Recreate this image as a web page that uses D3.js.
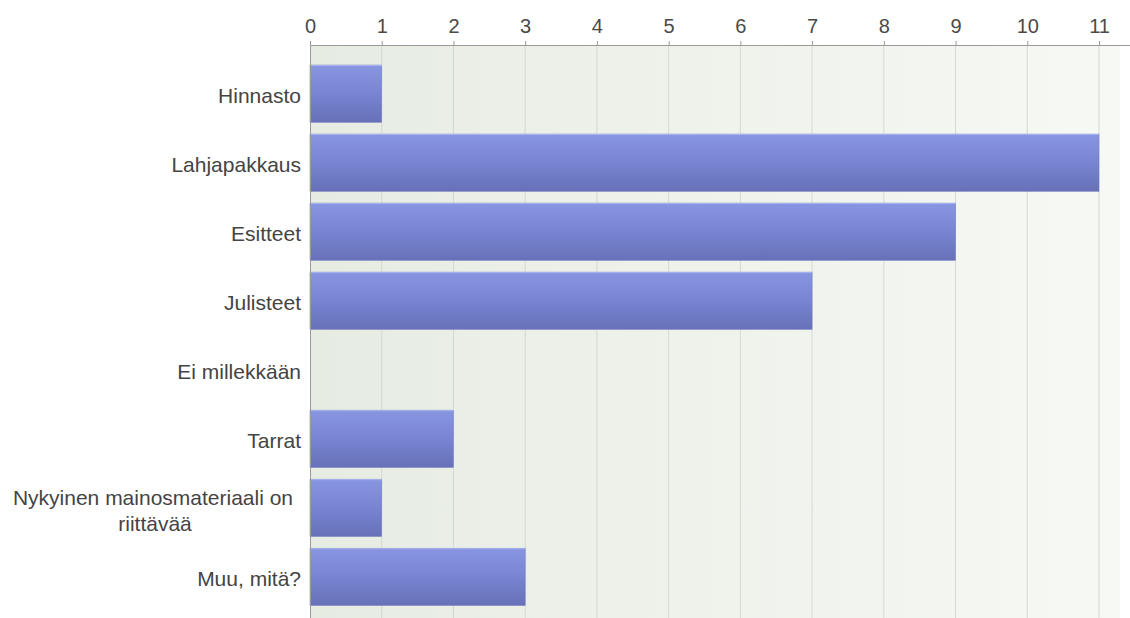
<!DOCTYPE html>
<html><head><meta charset="utf-8">
<script src="https://cdn.jsdelivr.net/npm/d3@7"></script>
<style>body{margin:0;background:#fff}svg{display:block}</style>
</head><body>
<svg id="c" width="1130" height="618"></svg>
<script>
const categories = ["Hinnasto","Lahjapakkaus","Esitteet","Julisteet","Ei millekkään","Tarrat","Nykyinen mainosmateriaali on riittävää","Muu, mitä?"];
const values = [1,11,9,7,0,2,1,3];
const tickValues = [0,1,2,3,4,5,6,7,8,9,10,11];

(function(){
const svg = d3.select("#c");
const W = 1130, H = 618;
const mLeft = 310, mTop = 45;
const FONT = "Liberation Sans, Arial, sans-serif";
const x = d3.scaleLinear().domain([0,11]).range([mLeft, 1099]);
const y = d3.scaleBand().domain(categories).range([59.5, 611]).paddingInner(0.17).paddingOuter(0.08);

const defs = svg.append("defs");
const bg = defs.append("linearGradient").attr("id","bg").attr("x1","0").attr("x2","1").attr("y1","0").attr("y2","0");
bg.append("stop").attr("offset","0").attr("stop-color","#e7ece3");
bg.append("stop").attr("offset","1").attr("stop-color","#f6f9f4");
const bar = defs.append("linearGradient").attr("id","bar").attr("x1","0").attr("x2","0").attr("y1","0").attr("y2","1");
bar.append("stop").attr("offset","0").attr("stop-color","#8896e2");
bar.append("stop").attr("offset","0.5").attr("stop-color","#7984d2");
bar.append("stop").attr("offset","1").attr("stop-color","#6671b9");

svg.append("rect").attr("x",mLeft).attr("y",mTop).attr("width",W-mLeft-10).attr("height",H-mTop).attr("fill","url(#bg)");

svg.append("g").selectAll("line").data(tickValues.slice(1)).join("line")
  .attr("x1",d=>x(d)).attr("x2",d=>x(d)).attr("y1",mTop).attr("y2",H)
  .attr("stroke","#d5d9d1").attr("stroke-width",1);

svg.append("g").selectAll("rect").data(categories).join("rect")
  .attr("x",x(0)).attr("y",d=>y(d))
  .attr("width",(d,i)=>x(values[i])-x(0))
  .attr("height",y.bandwidth())
  .attr("fill","url(#bar)")
  .attr("stroke",(d,i)=>values[i]>0?"#7079bd":"none").attr("stroke-width",0.5);
svg.append("g").selectAll("line").data(categories.filter((d,i)=>values[i]>0)).join("line")
  .attr("x1",x(0)).attr("x2",d=>x(values[categories.indexOf(d)]))
  .attr("y1",d=>y(d)+0.5).attr("y2",d=>y(d)+0.5).attr("stroke","#a8b4ef").attr("stroke-width",1);

const ax = svg.append("g").attr("transform",`translate(0,${mTop})`)
  .call(d3.axisTop(x).tickValues(tickValues).tickSize(4).tickPadding(8));
ax.select(".domain").attr("stroke","#999").attr("d",`M${mLeft},0.5H${W}`);
ax.selectAll(".tick line").attr("stroke","#999");
ax.selectAll("text").attr("fill","#4a4a4a").style("font-family",FONT).style("font-size","20px");

svg.append("line").attr("x1",mLeft+0.5).attr("x2",mLeft+0.5).attr("y1",mTop).attr("y2",H).attr("stroke","#999");

const lab = svg.append("g").style("font-family",FONT).style("font-size","21px").attr("fill","#444");
categories.forEach((c,i)=>{
  const cy = y(c)+y.bandwidth()/2;
  if (c.length > 20) {
    const t = lab.append("text").attr("text-anchor","middle");
    t.append("tspan").attr("x",153).attr("y",cy-3).text("Nykyinen mainosmateriaali on");
    t.append("tspan").attr("x",155).attr("y",cy+23).text("riittävää");
  } else {
    lab.append("text").attr("text-anchor","end").attr("x",301).attr("y",cy+9).text(c);
  }
});
})();
</script>
</body></html>
